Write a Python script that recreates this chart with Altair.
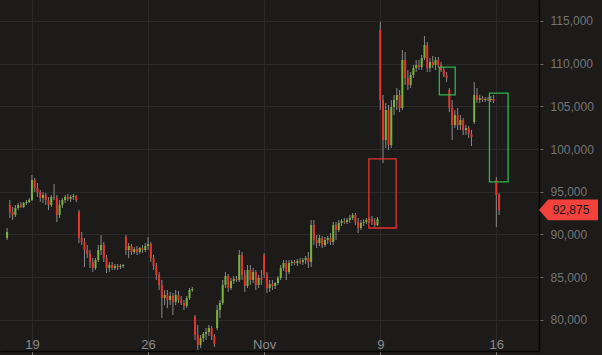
import altair as alt
import pandas as pd

# 4-hour candles (open, high, low, close), first candle 2020-10-17 12:00
first_candle = "2020-10-17 12:00"
candles_oct17_19 = [
    (89590, 90760, 89360, 90290),
    (93450, 94040, 91930, 92630), (92630, 93220, 91700, 92280),
    (92280, 93450, 92050, 93100), (93100, 93690, 92870, 93450), (93450, 93810, 93100, 93220),
    (93220, 93810, 93100, 93690), (93690, 94040, 93450, 93810), (93810, 94270, 93690, 94040),
    (94040, 96970, 93920, 96380), (96380, 96620, 94980, 95440), (95440, 96030, 94390, 94980),
    (94980, 95210, 93810, 94270), (94270, 94980, 93690, 94620), (94620, 94860, 93450, 94040),
]
candles_oct20_22 = [
    (94040, 94390, 92870, 93450), (93450, 94620, 93220, 94390), (94390, 95910, 94040, 94270),
    (94270, 94620, 91460, 92280), (92280, 94040, 91930, 93450), (93450, 94270, 93100, 94040),
    (94040, 94620, 93690, 94390), (94390, 94740, 93920, 94160), (94160, 94620, 93810, 94390),
    (94390, 94740, 94040, 94510), (94510, 94620, 93810, 94040), (92630, 92870, 89000, 89590),
    (89590, 90290, 88770, 89120), (89120, 89590, 86190, 88180), (88180, 88770, 87250, 87720),
    (87720, 88180, 86080, 86780), (86780, 87250, 85610, 86080), (86080, 87250, 85840, 87010),
]
candles_oct23_25 = [
    (87010, 88770, 86780, 88180), (88180, 89940, 87600, 88770), (88770, 89120, 86780, 87250),
    (87250, 87600, 85490, 86080), (86080, 86780, 85610, 86430), (86430, 86780, 85840, 86080),
    (86080, 86540, 85840, 86310), (86310, 86540, 85840, 86190), (86190, 86540, 85960, 86310),
    (86310, 86540, 86080, 86430), (89710, 89940, 87600, 88180), (88180, 89000, 87250, 88650),
    (88650, 88890, 87600, 87950), (87950, 88540, 87720, 88300), (88300, 88650, 87600, 87950),
    (87950, 88540, 87720, 88420), (88420, 88770, 87830, 88180), (88180, 89000, 87950, 88650),
]
candles_oct26_28 = [
    (88650, 89710, 88180, 88890), (88890, 89120, 86780, 87250), (87250, 87600, 85840, 86310),
    (86310, 86660, 84670, 85260), (85260, 85610, 83500, 84090), (84090, 84670, 80220, 82560),
    (82560, 83500, 81740, 82910), (82910, 83500, 81390, 82330), (82330, 83270, 81740, 82800),
    (82800, 83150, 80570, 82100), (82100, 83500, 81740, 82910), (82910, 83380, 81980, 82330),
    (82330, 82800, 81740, 81980), (81980, 82330, 81160, 81630), (81630, 82800, 81390, 82560),
    (82560, 83730, 82330, 83500), (83500, 83850, 83270, 83620), (80340, 80570, 77650, 78230),
]
candles_oct29_31 = [
    (78230, 79400, 76470, 77060), (77060, 78230, 76710, 77880), (77880, 78580, 77410, 78350),
    (78350, 79050, 77650, 78580), (78580, 79400, 78110, 79050), (79050, 79280, 77650, 78110),
    (78110, 78350, 76830, 77180), (79050, 81740, 78820, 81160), (81160, 82330, 80220, 81980),
    (81980, 84670, 81740, 84090), (84090, 85610, 83730, 85140), (85140, 85370, 83270, 83730),
    (83730, 84910, 83500, 84550), (84550, 85140, 84200, 84790), (84790, 85140, 84440, 84670),
    (84670, 88180, 84440, 87600), (87600, 87950, 84670, 85260), (85260, 85840, 83270, 83970),
]
candles_nov1_3 = [
    (83970, 86430, 83730, 85840), (85840, 86430, 84090, 84670), (84670, 86080, 84320, 85610),
    (85610, 85840, 83500, 84090), (84090, 85260, 83730, 84910), (84910, 85840, 84090, 84670),
    (87600, 87830, 84910, 85260), (85260, 85610, 83150, 83730), (83730, 84670, 83270, 84200),
    (84200, 84670, 83500, 83970), (83970, 84440, 83620, 84320), (84320, 85140, 84090, 84910),
    (84910, 86430, 84670, 86080), (86080, 87010, 85720, 86660), (86660, 87010, 84670, 85610),
    (85610, 87010, 85370, 86660), (86660, 87010, 86310, 86780), (86780, 87010, 86430, 86660),
]
candles_nov4_6 = [
    (86660, 87130, 86310, 86900), (86900, 87250, 86540, 86780), (86780, 87250, 86430, 87010),
    (87010, 87480, 86540, 87250), (87250, 87950, 86080, 86780), (86780, 91700, 86190, 91110),
    (91110, 91700, 88770, 89360), (89360, 89940, 88420, 89000), (89000, 89940, 88650, 89590),
    (89590, 89820, 88420, 88770), (88770, 89710, 88540, 89360), (89360, 89820, 88890, 89590),
    (89590, 90170, 88770, 89120), (89120, 91460, 88770, 91110), (91110, 91460, 89360, 90530),
    (90530, 91700, 90290, 91350), (91350, 91810, 90990, 91580), (91580, 91930, 91230, 91460),
]
candles_nov7_9 = [
    (91460, 91930, 91230, 91700), (91700, 92280, 91350, 91930), (91930, 92520, 91700, 92280),
    (92280, 92520, 91110, 91460), (91460, 91930, 90170, 90760), (90760, 91700, 90530, 91350),
    (91350, 91810, 90990, 91460), (91460, 91930, 91230, 91700), (91700, 92050, 91350, 91810),
    (91810, 92170, 91110, 91460), (91460, 91930, 90880, 91110), (91110, 92050, 90990, 91810),
    (113950, 114880, 104580, 105750), (105750, 106330, 98370, 101060), (101060, 105400, 100130, 104580),
    (104580, 105160, 99890, 100480), (100480, 105750, 100130, 104930), (104930, 106330, 103990, 105750),
]
candles_nov10_12 = [
    (105750, 107150, 104580, 106330), (106330, 106920, 104340, 104810), (104810, 111600, 104580, 110430),
    (110430, 111370, 107510, 108330), (108330, 109260, 106920, 107510), (107510, 109030, 107150, 108680),
    (108680, 109850, 108330, 109500), (109500, 110430, 109030, 109850), (109850, 110430, 109260, 109610),
    (109610, 111020, 109260, 110670), (110670, 113240, 110430, 112190), (112190, 112540, 109030, 109500),
    (109500, 110670, 109030, 110200), (110200, 110900, 109500, 109850), (109850, 110790, 109260, 110430),
    (110430, 110790, 109500, 109850), (109850, 110200, 109030, 109260), (109260, 109610, 108440, 108680),
]
candles_nov13_15 = [
    (108680, 109030, 107860, 108330), (106920, 107150, 104340, 104810), (104810, 105750, 101060, 102820),
    (102820, 104580, 102470, 103990), (103990, 104810, 102240, 102820), (102820, 103990, 102240, 103410),
    (103410, 103640, 101650, 102240), (102240, 102820, 101650, 102470), (102470, 102700, 101300, 101770),
    (101770, 102240, 100360, 101420), (103170, 107860, 102940, 106330), (106330, 107150, 105400, 105750),
    (105750, 106330, 105400, 105980), (105980, 106220, 105510, 105750), (105750, 106100, 105510, 105870),
    (105870, 106100, 105630, 105750), (105750, 106220, 105510, 105870), (105870, 106330, 105400, 105630),
]
candles_nov16 = [
    (96380, 96730, 90880, 94620), (94620, 94860, 92280, 92875),
]

# price gaps marked with boxes
gap_start = ["2020-11-08T07:30", "2020-11-12T13:30", "2020-11-15T14:00"]
gap_end = ["2020-11-09T23:00", "2020-11-13T12:30", "2020-11-16T17:00"]
gap_top = [98850, 109600, 106550]
gap_bottom = [90760, 106340, 96150]
gap_kind = ["up", "down", "down"]

y_ticks = [80000, 85000, 90000, 95000, 100000, 105000, 110000, 115000]
x_ticks = ["2020-10-19", "2020-10-26", "2020-11-02", "2020-11-09", "2020-11-16"]

RED = "#e8322e"
GREEN = "#78b43c"
BOX_GREEN = "#2fb44a"
BG = "#1c1b1a"
GRID = "#2b2a29"

all_candles = (candles_oct17_19 + candles_oct20_22 + candles_oct23_25 + candles_oct26_28
               + candles_oct29_31 + candles_nov1_3 + candles_nov4_6 + candles_nov7_9
               + candles_nov10_12 + candles_nov13_15 + candles_nov16)
times = pd.date_range(first_candle, periods=len(all_candles), freq="4h")
df = pd.DataFrame(all_candles, columns=["open", "high", "low", "close"])
df["time"] = times.strftime("%Y-%m-%dT%H:%M:%S")

gaps = pd.DataFrame({"start": gap_start, "end": gap_end, "top": gap_top,
                     "bottom": gap_bottom, "kind": gap_kind})
last = df.tail(1)

def dt(s):
    ts = pd.Timestamp(s)
    return alt.DateTime(year=ts.year, month=ts.month, date=ts.day, hours=ts.hour, minutes=ts.minute)

x_scale = alt.Scale(domain=[dt("2020-10-17 09:00"), dt("2020-11-18 06:30")])
y_scale = alt.Scale(domain=[76357, 117459], nice=False, zero=False)

x_axis = alt.Axis(
    values=[dt(v) for v in x_ticks],
    labelExpr="month(datum.value) == 10 && date(datum.value) == 2 ? 'Nov' : '' + date(datum.value)",
    grid=True, gridColor=GRID, domainColor="#060606", domainWidth=1.5,
    tickColor="#7a7a7a", tickSize=4, labelPadding=-17, labelFont="Liberation Sans",
    labelFontSize=13, labelColor="#8a8a8a", labelFlush=False, labelOverlap=False, title=None,
)
y_axis = alt.Axis(
    orient="right", values=y_ticks, labelExpr="format(datum.value, ',')", grid=True, gridColor=GRID,
    domainColor="#060606", domainWidth=1.5, tickColor="#6a6a6a", tickSize=4,
    labelPadding=7, labelFont="Liberation Sans", labelFontSize=12, labelColor="#747474",
    title=None,
)

wicks = alt.Chart(df).mark_rule(color="#8a8a8a", strokeWidth=1).encode(
    x=alt.X("time:T", scale=x_scale, axis=x_axis),
    y=alt.Y("low:Q", scale=y_scale, axis=y_axis),
    y2="high:Q",
)
bodies = alt.Chart(df).mark_bar(size=2).encode(
    x=alt.X("time:T", scale=x_scale, axis=x_axis),
    y=alt.Y("open:Q", scale=y_scale, axis=y_axis),
    y2="close:Q",
    color=alt.condition("datum.close >= datum.open", alt.value(GREEN), alt.value(RED)),
)
boxes = alt.Chart(gaps).mark_rect(fillOpacity=0, strokeWidth=1.3).encode(
    x=alt.X("start:T", scale=x_scale, axis=x_axis),
    x2="end:T",
    y=alt.Y("top:Q", scale=y_scale, axis=y_axis),
    y2="bottom:Q",
    stroke=alt.Stroke("kind:N", scale=alt.Scale(domain=["up", "down"], range=[RED, BOX_GREEN]), legend=None),
)
tag = alt.Chart(last).mark_point(
    shape="M -1 0 L -0.69 -0.35 L 1 -0.35 L 1 0.35 L -0.69 0.35 Z",
    filled=True, opacity=1, size=3481, color="#f2403b", clip=False,
).encode(x=alt.value(568.5), y=alt.Y("close:Q", scale=y_scale, axis=y_axis))
tag_text = alt.Chart(last).mark_text(
    font="Liberation Sans", fontSize=12, color="#1a1a1a", align="center", baseline="middle", clip=False,
).encode(x=alt.value(571), y=alt.Y("close:Q", scale=y_scale, axis=y_axis),
         text=alt.Text("close:Q", format=","))

chart = alt.layer(wicks, bodies, boxes, tag, tag_text).properties(
    width=539, height=351, background=BG,
    padding={"left": 0, "top": 0, "right": 63, "bottom": 4},
    autosize="none",
).configure_view(strokeWidth=0)

chart.save("out.html", embed_options={"renderer": "svg", "actions": False})
